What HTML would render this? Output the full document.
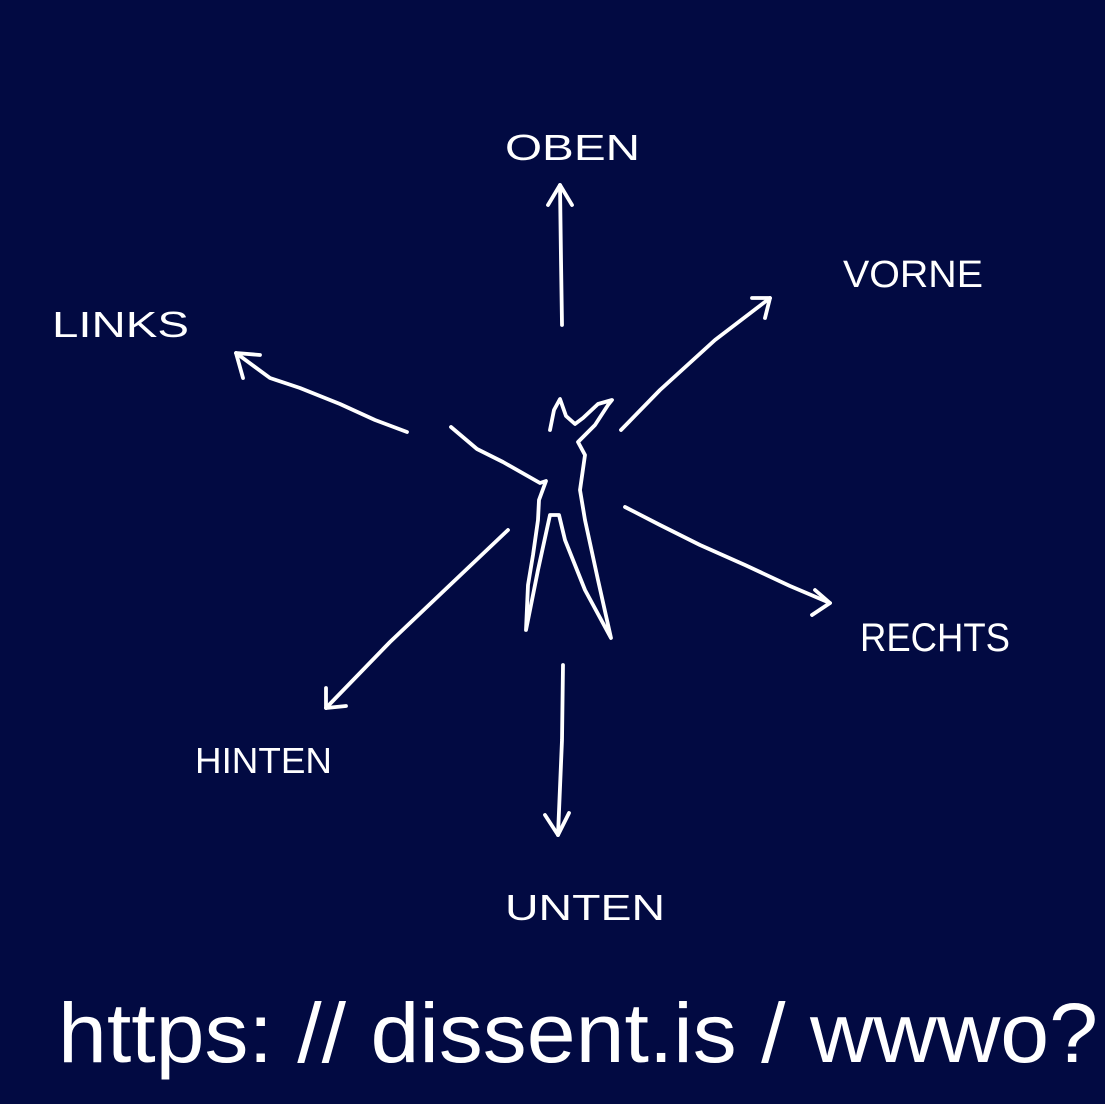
<!DOCTYPE html>
<html><head><meta charset="utf-8"><style>
html,body{margin:0;padding:0;background:#020a42;}
svg{display:block}
text{font-family:"Liberation Sans",sans-serif;fill:#fff}
</style></head><body>
<svg width="1105" height="1104" viewBox="0 0 1105 1104" xmlns="http://www.w3.org/2000/svg">
<rect width="1105" height="1104" fill="#020a42"/>
<g fill="none" stroke="#fff" stroke-width="3.8" stroke-linecap="round" stroke-linejoin="round">
<path d="M451,427 L477,449 L503,462 L540,483 L546,481 L539,500 L538,520 L533,555 L528,585 L526,630 L538,570 L550,515 L559,515 L565,540 L585,590 L611,638 L598,580 L585,520 L580,490 L585,455 L578,442 L595,425 L608,405 L612,400 L598,404 L583,418 L575,424 L566,416 L560,399 L554,410 L550,430"/>
<path d="M562,325 L561,260 L560,185"/><path d="M548,205 L560,185 L572,205"/>
<path d="M621,430 L660,390 L715,340 L770,298"/><path d="M752,298 L770,298 L765,318"/>
<path d="M407,432 L375,420 L340,404 L300,388 L270,378 L236,353"/><path d="M243,378 L236,353 L260,355"/>
<path d="M625,507 L660,525 L700,545 L745,565 L790,586 L830,603"/><path d="M815,590 L830,603 L812,615"/>
<path d="M508,530 L450,585 L390,642 L326,708"/><path d="M326,688 L326,708 L346,706"/>
<path d="M563,665 L562,740 L558,835"/><path d="M545,815 L558,835 L569,813"/>
</g>
<text x="505" y="160" font-size="36" textLength="135" lengthAdjust="spacingAndGlyphs">OBEN</text>
<text x="843" y="287" font-size="38" textLength="140" lengthAdjust="spacingAndGlyphs">VORNE</text>
<text x="52" y="337" font-size="36" textLength="137" lengthAdjust="spacingAndGlyphs">LINKS</text>
<text x="860" y="651" font-size="40" textLength="150" lengthAdjust="spacingAndGlyphs">RECHTS</text>
<text x="195" y="773" font-size="36" textLength="137" lengthAdjust="spacingAndGlyphs">HINTEN</text>
<text x="505" y="920" font-size="36" textLength="160" lengthAdjust="spacingAndGlyphs">UNTEN</text>
<text x="58" y="1062" font-size="84" textLength="1040" lengthAdjust="spacingAndGlyphs">https: // dissent.is / wwwo?</text>
</svg>
</body></html>
